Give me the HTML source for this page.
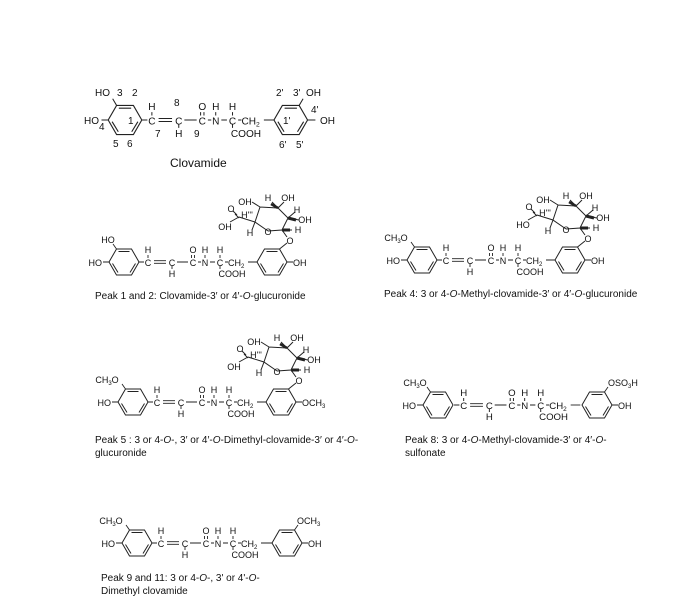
<!DOCTYPE html>
<html><head><meta charset="utf-8"><style>
html,body{margin:0;padding:0;background:#fff;}
svg{display:block;}
text{font-family:"Liberation Sans",sans-serif;fill:#111;}
.s{font-size:9px;}
.cap{font-size:10px;}
</style></head><body>
<svg width="692" height="607" viewBox="0 0 692 607" xmlns="http://www.w3.org/2000/svg">
<defs>
<g id="ring" fill="none" stroke="#222" stroke-width="1">
<polygon points="15,0 7.5,-13 -7.5,-13 -15,0 -7.5,13 7.5,13"/>
<path d="M-5.5,-10.5H5.5 M-11.5,1.5L-6,10.5 M6,10.5L11.5,1.5"/>
</g>
<g id="sugar" fill="none" stroke="#222" stroke-width="1">
<path d="M7.5,-13L15,-19 M15,-25L10,-32 M-4,-31L10,-32L16,-44L6,-54L-12,-55L-17,-40L-4,-31 M-17,-40L-33,-45 M-35,-47L-39,-51 M-33,-44L-37,-48 M-33,-45L-42,-40 M-12,-55L-20,-60 M6,-54L0,-60 M6,-54L12,-60 M16,-44L23,-50 M16,-44L27,-42 M10,-32L20,-32 M-17,-40L-20,-32"/>
<path d="M10,-32L18,-32" stroke-width="3"/>
<path d="M16,-44L24,-42" stroke-width="3"/>
<path d="M6,-54L-1,-58" stroke-width="2.5"/>
</g>
<g id="chainL" fill="none" stroke="#222" stroke-width="0.9">
<path d="M15,0H20 M30,-1.3H42 M30,1.3H42 M53,0H64 M74,0H77 M86,0H91 M101,0H104 M24,-7V-4 M67.5,-7V-4 M70.5,-7V-4 M81,-7V-4 M96,-7V-4 M48,4V7 M96,4V7"/>
</g>
</defs>

<!-- Main clovamide -->
<g transform="translate(125,120) scale(1.12)">
<use href="#ring"/><use href="#chainL"/>
<g transform="translate(148,0)"><use href="#ring"/></g>
<path d="M124,0H133 M-7.5,-13L-11,-19 M-15,0H-21 M155.5,-13L159,-19 M163,0H170" stroke="#222" stroke-width="0.9" fill="none"/>
<text x="24" y="4" class="s" text-anchor="middle">C</text>
<text x="48" y="4" class="s" text-anchor="middle">C</text>
<text x="69" y="4" class="s" text-anchor="middle">C</text>
<text x="81" y="4" class="s" text-anchor="middle">N</text>
<text x="96" y="4" class="s" text-anchor="middle">C</text>
<text x="104" y="4" class="s">CH<tspan font-size="6" dy="2">2</tspan></text>
<text x="24" y="-9" class="s" text-anchor="middle">H</text>
<text x="69" y="-9" class="s" text-anchor="middle">O</text>
<text x="81" y="-9" class="s" text-anchor="middle">H</text>
<text x="96" y="-9" class="s" text-anchor="middle">H</text>
<text x="48" y="15" class="s" text-anchor="middle">H</text>
<text x="108" y="15" class="s" text-anchor="middle">COOH</text>
</g>
<g>
<text x="95" y="96" style="font-size:10px">HO</text>
<text x="117" y="96" style="font-size:10px">3</text>
<text x="132" y="96" style="font-size:10px">2</text>
<text x="84" y="124" style="font-size:10px">HO</text>
<text x="99" y="130" style="font-size:10px">4</text>
<text x="128" y="124" style="font-size:10px">1</text>
<text x="113" y="147" style="font-size:10px">5</text>
<text x="127" y="147" style="font-size:10px">6</text>
<text x="155" y="137" style="font-size:10px">7</text>
<text x="174" y="106" style="font-size:10px">8</text>
<text x="194" y="137" style="font-size:10px">9</text>
<text x="276" y="96" style="font-size:10px">2'</text>
<text x="293" y="96" style="font-size:10px">3'</text>
<text x="306" y="96" style="font-size:10px">OH</text>
<text x="311" y="113" style="font-size:10px">4'</text>
<text x="283" y="124" style="font-size:10px">1'</text>
<text x="320" y="124" style="font-size:10px">OH</text>
<text x="279" y="148" style="font-size:10px">6'</text>
<text x="296" y="148" style="font-size:10px">5'</text>
</g>
<text x="170" y="167" style="font-size:12px">Clovamide</text>

<!-- Peak 1 -->
<g transform="translate(124,262)">
<use href="#ring"/><use href="#chainL"/>
<g transform="translate(148,0)"><use href="#ring"/><use href="#sugar"/></g>
<path d="M124,0H133 M-7.5,-13L-11,-18 M-15,0H-21 M163,0H169" stroke="#222" stroke-width="0.9" fill="none"/>
<text x="24" y="4" class="s" text-anchor="middle">C</text><text x="48" y="4" class="s" text-anchor="middle">C</text><text x="69" y="4" class="s" text-anchor="middle">C</text><text x="81" y="4" class="s" text-anchor="middle">N</text><text x="96" y="4" class="s" text-anchor="middle">C</text><text x="104" y="4" class="s">CH<tspan font-size="6" dy="2">2</tspan></text>
<text x="24" y="-9" class="s" text-anchor="middle">H</text><text x="69" y="-9" class="s" text-anchor="middle">O</text><text x="81" y="-9" class="s" text-anchor="middle">H</text><text x="96" y="-9" class="s" text-anchor="middle">H</text><text x="48" y="15" class="s" text-anchor="middle">H</text><text x="108" y="15" class="s" text-anchor="middle">COOH</text>
<text x="-16" y="-19" class="s" text-anchor="middle">HO</text>
<text x="-22" y="4" class="s" text-anchor="end">HO</text>
<text x="169" y="4" class="s">OH</text>
<g transform="translate(148,0)">
<text x="18" y="-18" class="s" text-anchor="middle">O</text>
<text x="-4" y="-27" class="s" text-anchor="middle">O</text>
<text x="-27" y="-57" class="s" text-anchor="middle">OH</text>
<text x="-4" y="-61" class="s" text-anchor="middle">H</text>
<text x="16" y="-61" class="s" text-anchor="middle">OH</text>
<text x="25" y="-49" class="s" text-anchor="middle">H</text>
<text x="33" y="-39" class="s" text-anchor="middle">OH</text>
<text x="26" y="-29" class="s" text-anchor="middle">H</text>
<text x="-22" y="-26" class="s" text-anchor="middle">H</text>
<text x="-25" y="-44" class="s" text-anchor="middle">H'''</text>
<text x="-41" y="-50" class="s" text-anchor="middle">O</text>
<text x="-47" y="-32" class="s" text-anchor="middle">OH</text>
</g>
</g>
<text x="95" y="299" class="cap">Peak 1 and 2: Clovamide-3′ or 4′-<tspan font-style="italic">O</tspan>-glucuronide</text>

<!-- Peak 4 -->
<g transform="translate(422,260)">
<use href="#ring"/><use href="#chainL"/>
<g transform="translate(148,0)"><use href="#ring"/><use href="#sugar"/></g>
<path d="M124,0H133 M-7.5,-13L-11,-18 M-15,0H-21 M163,0H169" stroke="#222" stroke-width="0.9" fill="none"/>
<text x="24" y="4" class="s" text-anchor="middle">C</text><text x="48" y="4" class="s" text-anchor="middle">C</text><text x="69" y="4" class="s" text-anchor="middle">C</text><text x="81" y="4" class="s" text-anchor="middle">N</text><text x="96" y="4" class="s" text-anchor="middle">C</text><text x="104" y="4" class="s">CH<tspan font-size="6" dy="2">2</tspan></text>
<text x="24" y="-9" class="s" text-anchor="middle">H</text><text x="69" y="-9" class="s" text-anchor="middle">O</text><text x="81" y="-9" class="s" text-anchor="middle">H</text><text x="96" y="-9" class="s" text-anchor="middle">H</text><text x="48" y="15" class="s" text-anchor="middle">H</text><text x="108" y="15" class="s" text-anchor="middle">COOH</text>
<text x="-26" y="-19" class="s" text-anchor="middle">CH<tspan font-size="6" dy="2">3</tspan><tspan dy="-2">O</tspan></text>
<text x="-22" y="4" class="s" text-anchor="end">HO</text>
<text x="169" y="4" class="s">OH</text>
<g transform="translate(148,0)">
<text x="18" y="-18" class="s" text-anchor="middle">O</text><text x="-4" y="-27" class="s" text-anchor="middle">O</text><text x="-27" y="-57" class="s" text-anchor="middle">OH</text><text x="-4" y="-61" class="s" text-anchor="middle">H</text><text x="16" y="-61" class="s" text-anchor="middle">OH</text><text x="25" y="-49" class="s" text-anchor="middle">H</text><text x="33" y="-39" class="s" text-anchor="middle">OH</text><text x="26" y="-29" class="s" text-anchor="middle">H</text><text x="-22" y="-26" class="s" text-anchor="middle">H</text><text x="-25" y="-44" class="s" text-anchor="middle">H'''</text><text x="-41" y="-50" class="s" text-anchor="middle">O</text><text x="-47" y="-32" class="s" text-anchor="middle">HO</text>
</g>
</g>
<text x="384" y="297" class="cap">Peak 4: 3 or 4-<tspan font-style="italic">O</tspan>-Methyl-clovamide-3′ or 4′-<tspan font-style="italic">O</tspan>-glucuronide</text>

<!-- Peak 5 -->
<g transform="translate(133,402)">
<use href="#ring"/><use href="#chainL"/>
<g transform="translate(148,0)"><use href="#ring"/><use href="#sugar"/></g>
<path d="M124,0H133 M-7.5,-13L-11,-18 M-15,0H-21 M163,0H169" stroke="#222" stroke-width="0.9" fill="none"/>
<text x="24" y="4" class="s" text-anchor="middle">C</text><text x="48" y="4" class="s" text-anchor="middle">C</text><text x="69" y="4" class="s" text-anchor="middle">C</text><text x="81" y="4" class="s" text-anchor="middle">N</text><text x="96" y="4" class="s" text-anchor="middle">C</text><text x="104" y="4" class="s">CH<tspan font-size="6" dy="2">2</tspan></text>
<text x="24" y="-9" class="s" text-anchor="middle">H</text><text x="69" y="-9" class="s" text-anchor="middle">O</text><text x="81" y="-9" class="s" text-anchor="middle">H</text><text x="96" y="-9" class="s" text-anchor="middle">H</text><text x="48" y="15" class="s" text-anchor="middle">H</text><text x="108" y="15" class="s" text-anchor="middle">COOH</text>
<text x="-26" y="-19" class="s" text-anchor="middle">CH<tspan font-size="6" dy="2">3</tspan><tspan dy="-2">O</tspan></text>
<text x="-22" y="4" class="s" text-anchor="end">HO</text>
<text x="169" y="4" class="s">OCH<tspan font-size="6" dy="2">3</tspan></text>
<g transform="translate(148,0)">
<text x="18" y="-18" class="s" text-anchor="middle">O</text><text x="-4" y="-27" class="s" text-anchor="middle">O</text><text x="-27" y="-57" class="s" text-anchor="middle">OH</text><text x="-4" y="-61" class="s" text-anchor="middle">H</text><text x="16" y="-61" class="s" text-anchor="middle">OH</text><text x="25" y="-49" class="s" text-anchor="middle">H</text><text x="33" y="-39" class="s" text-anchor="middle">OH</text><text x="26" y="-29" class="s" text-anchor="middle">H</text><text x="-22" y="-26" class="s" text-anchor="middle">H</text><text x="-25" y="-44" class="s" text-anchor="middle">H'''</text><text x="-41" y="-50" class="s" text-anchor="middle">O</text><text x="-47" y="-32" class="s" text-anchor="middle">OH</text>
</g>
</g>
<text x="95" y="443" class="cap">Peak 5 : 3 or 4-<tspan font-style="italic">O</tspan>-, 3′ or 4′-<tspan font-style="italic">O</tspan>-Dimethyl-clovamide-3′ or 4′-<tspan font-style="italic">O</tspan>-</text>
<text x="95" y="456" class="cap">glucuronide</text>

<!-- Peak 8 -->
<g transform="translate(438,405)">
<use href="#ring"/>
<g transform="scale(1.07,1)"><use href="#chainL"/>
<path d="M124,0H133" stroke="#222" stroke-width="0.9"/>
<text x="24" y="4" class="s" text-anchor="middle">C</text><text x="48" y="4" class="s" text-anchor="middle">C</text><text x="69" y="4" class="s" text-anchor="middle">C</text><text x="81" y="4" class="s" text-anchor="middle">N</text><text x="96" y="4" class="s" text-anchor="middle">C</text><text x="104" y="4" class="s">CH<tspan font-size="6" dy="2">2</tspan></text>
<text x="24" y="-9" class="s" text-anchor="middle">H</text><text x="69" y="-9" class="s" text-anchor="middle">O</text><text x="81" y="-9" class="s" text-anchor="middle">H</text><text x="96" y="-9" class="s" text-anchor="middle">H</text><text x="48" y="15" class="s" text-anchor="middle">H</text><text x="108" y="15" class="s" text-anchor="middle">COOH</text>
</g>
<g transform="translate(159,0)"><use href="#ring"/></g>
<path d="M-7.5,-13L-11,-18 M-15,0H-21 M174,0H180 M166.5,-13L170,-18" stroke="#222" stroke-width="0.9" fill="none"/>
<text x="-23" y="-19" class="s" text-anchor="middle">CH<tspan font-size="6" dy="2">3</tspan><tspan dy="-2">O</tspan></text>
<text x="-22" y="4" class="s" text-anchor="end">HO</text>
<text x="180" y="4" class="s">OH</text>
<text x="170" y="-19" class="s">OSO<tspan font-size="6" dy="2">3</tspan><tspan dy="-2">H</tspan></text>
</g>
<text x="405" y="443" class="cap">Peak 8: 3 or 4-<tspan font-style="italic">O</tspan>-Methyl-clovamide-3′ or 4′-<tspan font-style="italic">O</tspan>-</text>
<text x="405" y="456" class="cap">sulfonate</text>

<!-- Peak 9 and 11 -->
<g transform="translate(137,543)">
<use href="#ring"/><use href="#chainL"/>
<g transform="translate(150,0)"><use href="#ring"/></g>
<path d="M124,0H135 M-7.5,-13L-11,-18 M-15,0H-21 M165,0H171 M157.5,-13L161,-18" stroke="#222" stroke-width="0.9" fill="none"/>
<text x="24" y="4" class="s" text-anchor="middle">C</text><text x="48" y="4" class="s" text-anchor="middle">C</text><text x="69" y="4" class="s" text-anchor="middle">C</text><text x="81" y="4" class="s" text-anchor="middle">N</text><text x="96" y="4" class="s" text-anchor="middle">C</text><text x="104" y="4" class="s">CH<tspan font-size="6" dy="2">2</tspan></text>
<text x="24" y="-9" class="s" text-anchor="middle">H</text><text x="69" y="-9" class="s" text-anchor="middle">O</text><text x="81" y="-9" class="s" text-anchor="middle">H</text><text x="96" y="-9" class="s" text-anchor="middle">H</text><text x="48" y="15" class="s" text-anchor="middle">H</text><text x="108" y="15" class="s" text-anchor="middle">COOH</text>
<text x="-26" y="-19" class="s" text-anchor="middle">CH<tspan font-size="6" dy="2">3</tspan><tspan dy="-2">O</tspan></text>
<text x="-22" y="4" class="s" text-anchor="end">HO</text>
<text x="171" y="4" class="s">OH</text>
<text x="160" y="-19" class="s">OCH<tspan font-size="6" dy="2">3</tspan></text>
</g>
<text x="101" y="581" class="cap">Peak 9 and 11:  3 or 4-<tspan font-style="italic">O</tspan>-,  3' or 4'-<tspan font-style="italic">O</tspan>-</text>
<text x="101" y="594" class="cap">Dimethyl clovamide</text>
</svg>
</body></html>
